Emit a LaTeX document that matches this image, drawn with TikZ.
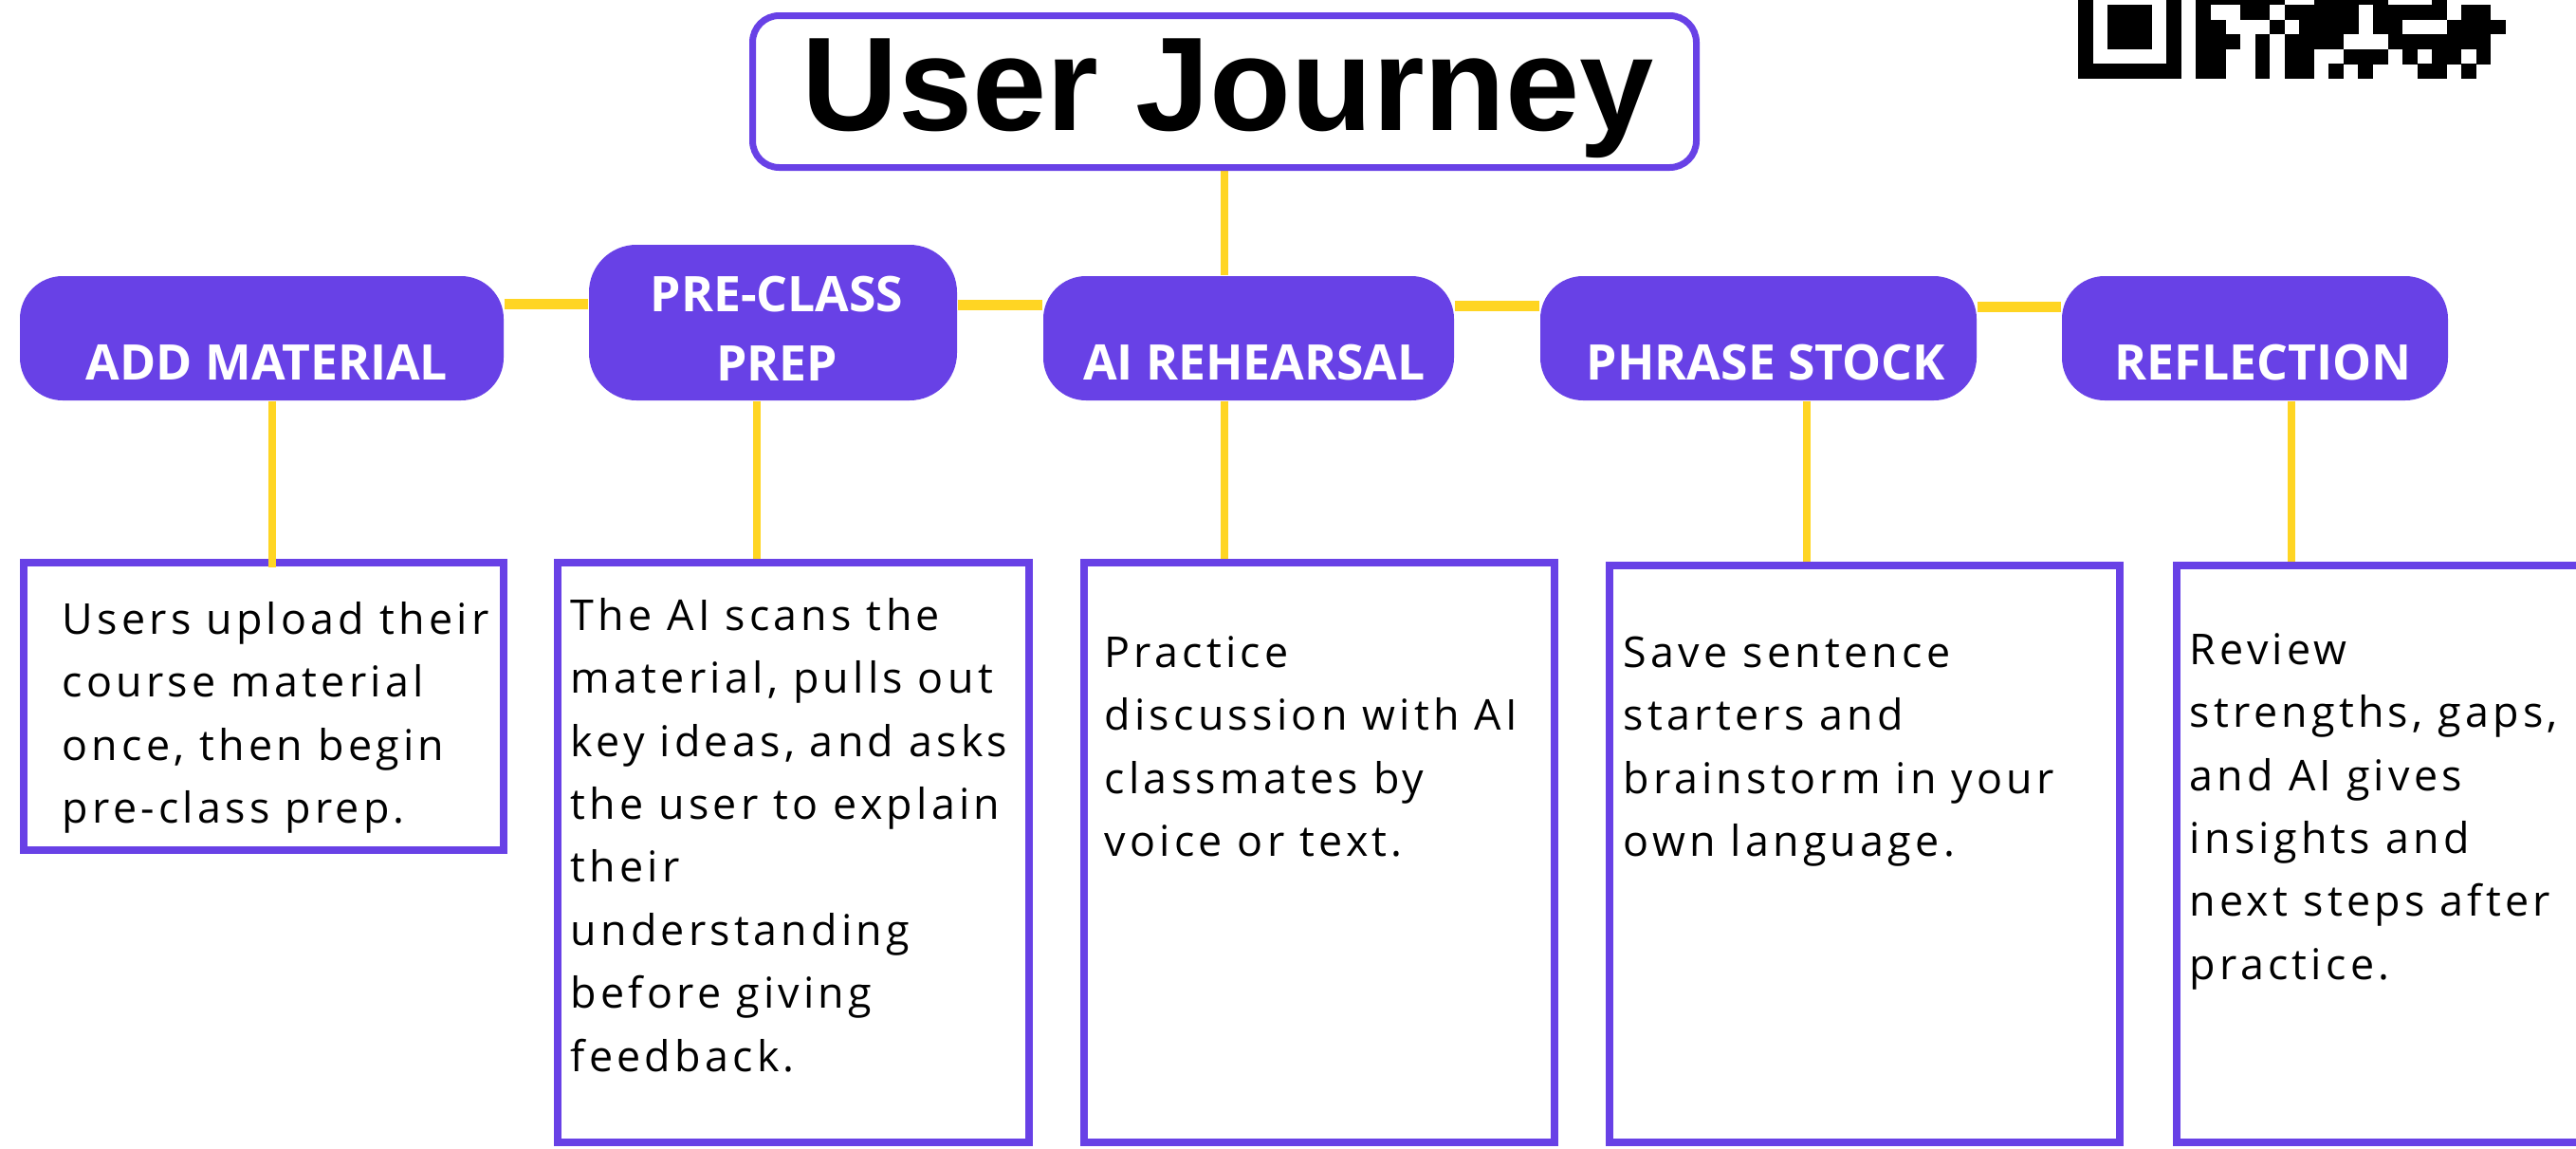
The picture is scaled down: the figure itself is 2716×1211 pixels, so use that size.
\documentclass[tikz,border=0pt]{standalone}
\usepackage{fontspec}
\setmainfont{Open Sans}
\newfontfamily\titlefont{Liberation Sans}
\newfontfamily\pillfont{Open Sans}
\newfontfamily\bodyfont{Open Sans}[LetterSpace=9.5]
\usetikzlibrary{backgrounds}
\definecolor{jpurple}{RGB}{104,65,230}
\definecolor{jyellow}{RGB}{255,213,35}
\newcommand{\bodylines}[1]{\vtop{\bodyfont\fontsize{12.75}{18.92}\selectfont\baselineskip=18.92pt\relax #1}}
\newcommand{\bl}[1]{\hbox{#1}}
\newcommand{\twolines}[2]{\vtop{\baselineskip=21.05pt\halign{\hfil##\hfil\cr#1\cr#2\cr}}}
\begin{document}
\begin{tikzpicture}[x=0.1mm,y=-0.1mm,
  titlebox/.style={draw=jpurple, line width=0.7mm, rounded corners=2.8mm, fill=white,
    minimum width=99.5mm, minimum height=16mm, inner sep=0, text height=10mm, text depth=1.9mm,
    font={\titlefont\bfseries\fontsize{40}{41}\selectfont}},
  pill/.style={fill=jpurple, rounded corners=4.5mm, inner sep=0, text=white,
    minimum height=13.1mm, text height=10mm, text depth=1.2mm,
    font={\pillfont\bfseries\fontsize{14.7}{17}\selectfont}},
  tbox/.style={draw=jpurple, line width=0.8mm, inner sep=0, fill=white},
  btext/.style={anchor=base west, inner sep=0, text=black},
  hline/.style={draw=jyellow, line width=1.1mm},
  vline/.style={draw=jyellow, line width=0.75mm}]
\clip (0,0) rectangle (2716,1211);

% title
\node[titlebox] (title) at (1291,96.5) {\hspace*{0.8mm}User Journey};

% pills
\node[pill, minimum width=51mm] (addm) at (276,356.5) {\hspace*{1.1mm}ADD MATERIAL};
\node[pill, minimum width=38.8mm, minimum height=16.4mm, rounded corners=5mm, text height=3mm, text depth=5.4mm] (pre) at (815,340) {\hspace*{0.8mm}\twolines{PRE-CLASS}{PREP}};
\node[pill, minimum width=43.3mm] (air) at (1316.5,356.5) {\hspace*{1.2mm}AI REHEARSAL};
\node[pill, minimum width=46mm] (phr) at (1854,356.5) {\hspace*{1.6mm}PHRASE STOCK};
\node[pill, minimum width=40.7mm] (refl) at (2377.5,356.5) {\hspace*{1.7mm}REFLECTION};

% text boxes
\node[tbox, minimum width=50.6mm, minimum height=30.3mm] (box1) at (278,744.5) {};
\node[tbox, minimum width=49.7mm, minimum height=61.1mm] (box2) at (836.5,898.5) {};
\node[tbox, minimum width=49.6mm, minimum height=61.1mm] (box3) at (1391,898.5) {};
\node[tbox, minimum width=53.8mm, minimum height=60.8mm] (box4) at (1966,900) {};
\node[tbox, minimum width=50.5mm, minimum height=60.8mm] (box5) at (2547.5,900) {};

% box texts
\node[btext] (t1) at (65,668) {\bodylines{\bl{Users upload their}\bl{course material}\bl{once, then begin}\bl{pre-class prep.}}};
\node[btext] (t2) at (601,664) {\bodylines{\bl{The AI scans the}\bl{material, pulls out}\bl{key ideas, and asks}\bl{the user to explain}\bl{their}\bl{understanding}\bl{before giving}\bl{feedback.}}};
\node[btext] (t3) at (1164,703) {\bodylines{\bl{Practice}\bl{discussion with AI}\bl{classmates by}\bl{voice or text.}}};
\node[btext] (t4) at (1711,703) {\bodylines{\bl{Save sentence}\bl{starters and}\bl{brainstorm in your}\bl{own language.}}};
\node[btext] (t5) at (2308,700) {\bodylines{\bl{Review}\bl{strengths, gaps,}\bl{and AI gives}\bl{insights and}\bl{next steps after}\bl{practice.}}};

% connectors
\begin{scope}[on background layer]
  \fill[white] (0,0) rectangle (2716,1211);
  \draw[vline] (title.south) -- (title.south |- air.north);
  \draw[hline] ([yshift=3.6mm]addm.east) coordinate (h1) -- (h1 -| pre.west);
  \draw[hline] ([yshift=1.85mm]pre.east) coordinate (h2) -- (h2 -| air.west);
  \draw[hline] ([yshift=3.4mm]air.east) coordinate (h3) -- (h3 -| phr.west);
  \draw[hline] ([yshift=3.3mm]phr.east) coordinate (h4) -- (h4 -| refl.west);
  \draw[vline] ([xshift=-1.7mm]pre.south) coordinate (v2) -- (v2 |- box2.north);
  \draw[vline] ([xshift=-2.55mm]air.south) coordinate (v3) -- (v3 |- box3.north);
  \draw[vline] ([xshift=5.1mm]phr.south) coordinate (v4) -- (v4 |- box4.north);
  \draw[vline] ([xshift=3.85mm]refl.south) coordinate (v5) -- (v5 |- box5.north);
\end{scope}
\draw[vline] ([xshift=1.1mm]addm.south) coordinate (v1) -- (v1 |- box1.north) -- ++(0,9);

% QR code (partly cut off at the top)
\fill[black] (2191,-25.85) rectangle (2299.85,83);
\fill[white] (2206.55,-10.3) rectangle (2284.3,67.45);
\fill[black] (2222.1,5.25) rectangle (2268.75,51.9);
\foreach \r/\cols in {5/{8,9,10,11,12,13,16,17,18,19,20,24},
                      4/{8,11,12,14,15,16,17,18,20,21,22,23,24,26,27},
                      3/{8,9,13,15,16,17,18,20,21,25,26,27,28},
                      2/{8,9,10,12,14,15,16,17,21,22,23,24,25,26,27},
                      1/{8,9,12,14,15,18,19,20,22,24,25,27},
                      0/{8,9,12,14,15,17,19,23,24,26}}{
  \foreach \c in \cols {
    \fill[black] (2191+\c*15.55, 67.45-\r*15.55) rectangle ++(15.6,15.6);
  }
}
\end{tikzpicture}
\end{document}
